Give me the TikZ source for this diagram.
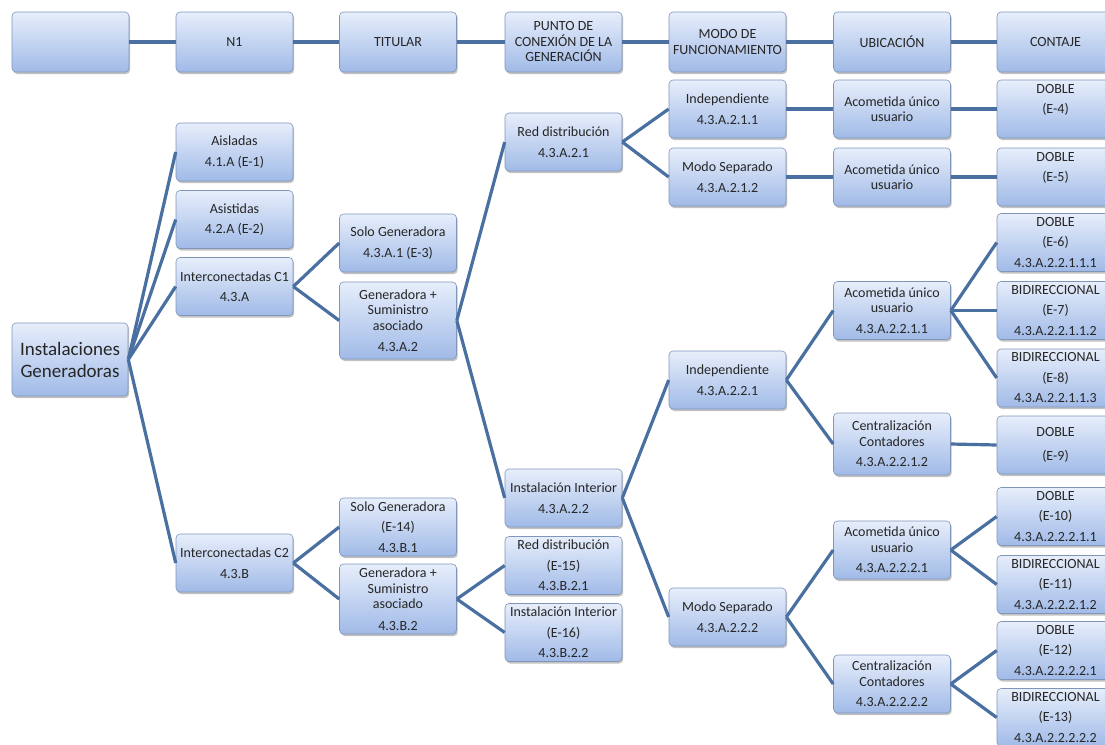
\documentclass[tikz,border=0pt]{standalone}
\usepackage{fontspec}
\setmainfont{Carlito}
\usetikzlibrary{shadows}

\definecolor{boxtop}{HTML}{E7EEFB}
\definecolor{boxbot}{HTML}{A0BAE7}
\definecolor{boxline}{HTML}{7F96BA}
\definecolor{linkblue}{HTML}{4A70A2}
\definecolor{txtgray}{HTML}{262626}

\begin{document}
\begin{tikzpicture}[x=1pt, y=-1pt,
    box/.style={draw=boxline, line width=0.6pt, rounded corners=4pt,
        top color=boxtop, bottom color=boxbot,
        drop shadow={shadow xshift=1.2pt, shadow yshift=-2pt, opacity=0.4, fill=black!60},
        align=center, text=txtgray, inner sep=1pt,
        minimum width=117pt, minimum height=58pt,
        font=\fontsize{14}{15.5}\selectfont},
    link/.style={draw=linkblue, line width=3.2pt}]
    \useasboundingbox (0,0) rectangle (1105,744);
    \clip (0,0) rectangle (1105,744);

    % header row
    \node[box, minimum height=60pt] (h0) at (70.5,42) {};
    \node[box, minimum height=60pt] (h1) at (234.5,42) {N1};
    \node[box, minimum height=60pt] (h2) at (398,42) {TITULAR};
    \node[box, minimum height=60pt] (h3) at (563.5,42) {PUNTO DE\\CONEXIÓN DE LA\\GENERACIÓN};
    \node[box, minimum height=60pt] (h4) at (727.5,42) {MODO DE\\FUNCIONAMIENTO};
    \node[box, minimum height=60pt] (h5) at (892,42) {UBICACIÓN};
    \node[box, minimum height=60pt] (h6) at (1055.5,42) {CONTAJE};

    % N1
    \node[box, minimum width=116pt, minimum height=73pt, font=\fontsize{19}{22}\selectfont]
        (root) at (70,359.5) {Instalaciones\\Generadoras};

    % titular
    \node[box] (aisl) at (234.5,152) {Aisladas\\[5pt]4.1.A (E-1)};
    \node[box] (asis) at (234.5,219.5) {Asistidas\\[5pt]4.2.A (E-2)};
    \node[box] (icA) at (234.5,286.5) {Interconectadas C1\\[5pt]4.3.A};
    \node[box] (icB) at (234.5,563) {Interconectadas C2\\[5pt]4.3.B};

    % punto de conexion
    \node[box] (sgA) at (398,243) {Solo Generadora\\[5pt]4.3.A.1 (E-3)};
    \node[box, minimum height=77pt] (gsA) at (398,320.5) {Generadora +\\Suministro\\asociado\\[6pt]4.3.A.2};
    \node[box] (sgB) at (398,527) {Solo Generadora\\[5pt](E-14)\\[5pt]4.3.B.1};
    \node[box, minimum height=70pt] (gsB) at (398,599) {Generadora +\\Suministro\\asociado\\[6pt]4.3.B.2};

    \node[box] (rdA) at (563.5,142) {Red distribución\\[5pt]4.3.A.2.1};
    \node[box] (iiA) at (563.5,498) {Instalación Interior\\[5pt]4.3.A.2.2};
    \node[box] (rdB) at (563.5,565.5) {Red distribución\\[5pt](E-15)\\[5pt]4.3.B.2.1};
    \node[box] (iiB) at (563.5,632.5) {Instalación Interior\\[5pt](E-16)\\[5pt]4.3.B.2.2};

    % modo de funcionamiento
    \node[box] (indA) at (727.5,109) {Independiente\\[5pt]4.3.A.2.1.1};
    \node[box] (msA) at (727.5,177) {Modo Separado\\[5pt]4.3.A.2.1.2};
    \node[box] (indB) at (727.5,380) {Independiente\\[5pt]4.3.A.2.2.1};
    \node[box] (msB) at (727.5,617) {Modo Separado\\[5pt]4.3.A.2.2.2};

    % ubicacion
    \node[box] (acA1) at (892,109) {Acometida único\\usuario};
    \node[box] (acA2) at (892,177) {Acometida único\\usuario};
    \node[box] (acB1) at (892,310.5) {Acometida único\\usuario\\[5pt]4.3.A.2.2.1.1};
    \node[box, minimum height=62pt] (ceB1) at (892,444) {Centralización\\Contadores\\[5pt]4.3.A.2.2.1.2};
    \node[box] (acB2) at (892,550) {Acometida único\\usuario\\[5pt]4.3.A.2.2.2.1};
    \node[box] (ceB2) at (892,684) {Centralización\\Contadores\\[5pt]4.3.A.2.2.2.2};

    % contaje
    \node[box] (e4) at (1055.5,109) {DOBLE\\[5pt](E-4)\\[5pt]~};
    \node[box] (e5) at (1055.5,177) {DOBLE\\[5pt](E-5)\\[5pt]~};
    \node[box] (e6) at (1055.5,242.5) {DOBLE\\[5pt](E-6)\\[5pt]4.3.A.2.2.1.1.1};
    \node[box] (e7) at (1055.5,310.5) {BIDIRECCIONAL\\[5pt](E-7)\\[5pt]4.3.A.2.2.1.1.2};
    \node[box] (e8) at (1055.5,378) {BIDIRECCIONAL\\[5pt](E-8)\\[5pt]4.3.A.2.2.1.1.3};
    \node[box] (e9) at (1055.5,445) {DOBLE\\[8pt](E-9)};
    \node[box] (e10) at (1055.5,516.5) {DOBLE\\[5pt](E-10)\\[5pt]4.3.A.2.2.2.1.1};
    \node[box] (e11) at (1055.5,584.5) {BIDIRECCIONAL\\[5pt](E-11)\\[5pt]4.3.A.2.2.2.1.2};
    \node[box] (e12) at (1055.5,650.5) {DOBLE\\[5pt](E-12)\\[5pt]4.3.A.2.2.2.2.1};
    \node[box] (e13) at (1055.5,717.5) {BIDIRECCIONAL\\[5pt](E-13)\\[5pt]4.3.A.2.2.2.2.2};

    % connectors
    \foreach \a/\b in {h0/h1, h1/h2, h2/h3, h3/h4, h4/h5, h5/h6,
        root/aisl, root/asis, root/icA, root/icB,
        icA/sgA, icA/gsA, icB/sgB, icB/gsB,
        gsA/rdA, gsA/iiA, gsB/rdB, gsB/iiB,
        rdA/indA, rdA/msA, iiA/indB, iiA/msB,
        indA/acA1, msA/acA2, indB/acB1, indB/ceB1, msB/acB2, msB/ceB2,
        acA1/e4, acA2/e5, acB1/e6, acB1/e7, acB1/e8, ceB1/e9,
        acB2/e10, acB2/e11, ceB2/e12, ceB2/e13}
        \draw[link] (\a.east) -- (\b.west);
\end{tikzpicture}
\end{document}
